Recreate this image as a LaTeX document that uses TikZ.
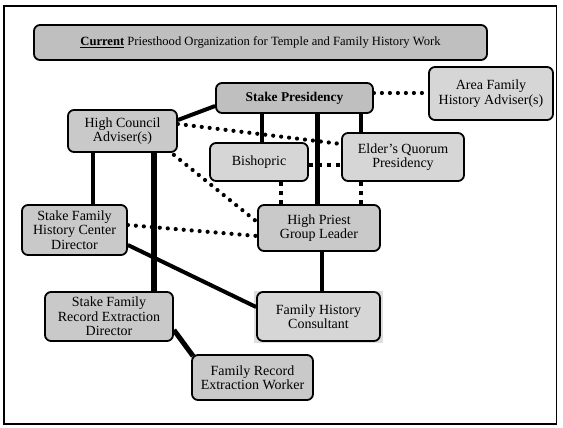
\documentclass[tikz,border=0pt]{standalone}
\usepackage{fontspec}
\setmainfont{Liberation Serif}
\usetikzlibrary{backgrounds}
\definecolor{gdark}{gray}{0.75}
\definecolor{gmid}{gray}{0.79}
\definecolor{glight}{gray}{0.84}
\definecolor{gpale}{gray}{0.87}
\tikzset{
  box/.style={draw=black, line width=1.8pt, rounded corners=6pt, align=center,
    inner sep=0pt, font=\fontsize{14}{14.5}\selectfont},
  solidlink/.style={line width=4pt},
  dotlink/.style={line width=4.2pt, line cap=round, dash pattern=on 0pt off 8pt},
  sqlink/.style={line width=3.8pt, dash pattern=on 4pt off 5pt},
}
\begin{document}
\begin{tikzpicture}[x=1pt,y=-1pt]
\useasboundingbox (0,0) rectangle (563,428);
\draw[line width=1.5pt] (4,6) rectangle (556.5,424);

\node[box, fill=gdark, minimum width=453pt, minimum height=35pt, font=\fontsize{12.6}{14}\selectfont]
  (title) at (260.5,42.5) {\underline{\textbf{Current}} Priesthood Organization for Temple and Family History Work};
\node[box, fill=gdark, minimum width=157pt, minimum height=30pt, font=\fontsize{13.4}{14}\selectfont\bfseries]
  (sp) at (294.5,98) {Stake Presidency};
\node[box, fill=glight, minimum width=124pt, minimum height=53pt]
  (area) at (491,93.5) {Area Family\\History Adviser(s)};
\node[box, fill=gmid, minimum width=109pt, minimum height=42pt]
  (hc) at (122.5,131) {High Council\\Adviser(s)};
\node[box, fill=glight, minimum width=98pt, minimum height=38pt]
  (bish) at (259,162) {Bishopric};
\node[box, fill=glight, minimum width=122pt, minimum height=48pt]
  (eq) at (403,157) {Elder’s Quorum\\Presidency};
\node[box, fill=gmid, minimum width=122pt, minimum height=46pt]
  (hp) at (319,228) {High Priest\\Group Leader};
\node[box, fill=gmid, minimum width=105pt, minimum height=50pt]
  (sfhc) at (74.5,230) {Stake Family\\History Center\\Director};
\node[box, fill=gmid, minimum width=128pt, minimum height=49pt]
  (sfre) at (109,316.5) {Stake Family\\Record Extraction\\Director};
\node[box, fill=glight, minimum width=123pt, minimum height=49pt]
  (fhc) at (318.5,316.5) {Family History\\Consultant};
\node[box, fill=gmid, minimum width=121pt, minimum height=45pt]
  (frew) at (252.5,377.5) {Family Record\\Extraction Worker};

\begin{scope}[on background layer]
  \fill[gpale] ([xshift=-2pt]fhc.north west) rectangle ([xshift=2pt,yshift=-1pt]fhc.south east);
  % solid links
  \draw[solidlink] ([yshift=-8pt]sp.west) -- ([yshift=11pt]hc.east);
  \draw[solidlink, line width=4.5pt] ([xshift=3pt]bish.north) -- ([xshift=3pt]bish.north |- sp.south);
  \draw[solidlink, line width=5pt] ([xshift=-2pt]hp.north) -- ([xshift=-2pt]hp.north |- sp.south);
  \draw[solidlink, line width=3.2pt] ([xshift=-42pt]eq.north) -- ([xshift=-42pt]eq.north |- sp.south);
  \draw[solidlink] ([xshift=-29.5pt]hc.south) -- ([xshift=-29.5pt]hc.south |- sfhc.north);
  \draw[solidlink, line width=5.5pt] ([xshift=31.5pt]hc.south) -- ([xshift=31.5pt]hc.south |- sfre.north);
  \draw[solidlink] ([yshift=-15pt]sfhc.east) -- ([yshift=9.5pt]fhc.west);
  \draw[solidlink] ([xshift=3pt]hp.south) -- ([xshift=3pt]hp.south |- fhc.north);
  \draw[solidlink, line width=5pt] ([yshift=-13.5pt]sfre.east) -- ([xshift=2pt,yshift=-2pt]frew.north west);
  % dotted links
  \draw[dotlink] ([yshift=5pt]sp.east) -- ([yshift=5pt]sp.east -| area.west);
  \draw[dotlink] ([yshift=7pt]hc.east) -- ([yshift=13pt]eq.west);
  \draw[dotlink] ([xshift=-4pt,yshift=-2pt]hc.south east) -- ([yshift=6pt]hp.west);
  \draw[dotlink] ([yshift=5pt]sfhc.east) -- ([yshift=-8pt]hp.west);
  % square-dotted links
  \draw[sqlink] ([yshift=-3pt]bish.east) -- ([yshift=-3pt]bish.east -| eq.west);
  \draw[sqlink] ([xshift=22pt]bish.south) -- ([xshift=22pt]bish.south |- hp.north);
  \draw[sqlink] ([xshift=-42pt]eq.south) -- ([xshift=-42pt]eq.south |- hp.north);
\end{scope}
\end{tikzpicture}
\end{document}
